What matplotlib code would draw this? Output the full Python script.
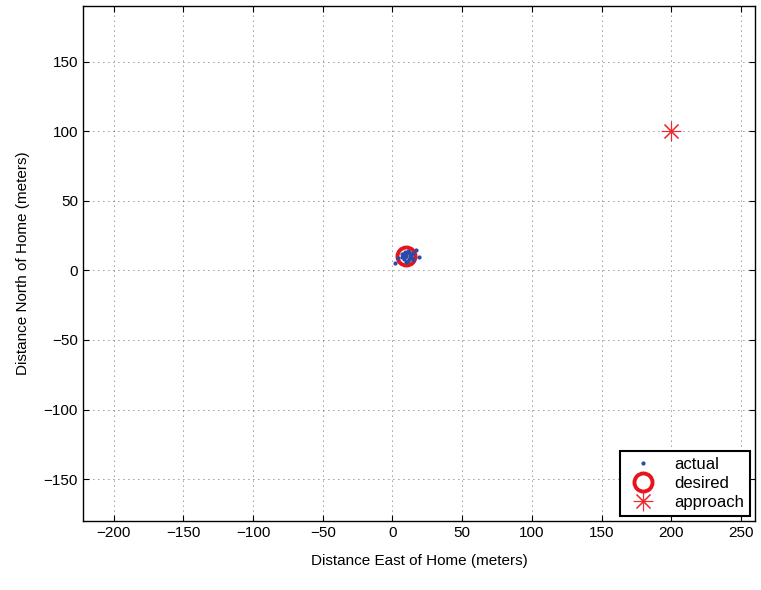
import matplotlib.pyplot as plt
import numpy as np

plt.rcParams['font.family'] = ['Liberation Sans', 'DejaVu Sans']

# actual positions (meters east / north of home)
actual_e = [1.8, 3.7, 16.9, 18.8, 7.5, 9.0, 10.5, 12.0, 13.5, 8.0, 11.0, 14.0,
            9.5, 12.5, 7.0, 10.0, 13.0, 11.5, 8.5, 15.0, 6.5, 14.5, 9.0, 12.0]
actual_n = [5.5, 9.1, 14.6, 9.5, 12.0, 13.5, 12.5, 13.0, 11.0, 8.0, 7.0, 9.0,
            10.5, 10.0, 9.5, 6.0, 12.0, 14.0, 11.0, 12.5, 11.5, 7.5, 9.5, 8.5]
desired_e, desired_n = [10], [10]
approach_e, approach_n = [200], [100]

fig = plt.figure(figsize=(7.61, 5.90), dpi=100)
ax = fig.add_axes([0.109, 0.117, 0.883, 0.873])

ax.plot(actual_e, actual_n, '.', color='#2a4aa8', markersize=4, label='actual',
        zorder=4)
ax.plot(desired_e, desired_n, 'o', mfc='none', mec='#e8141c', mew=2.8,
        markersize=13, label='desired', zorder=3)
ax.plot(approach_e, approach_n, linestyle='none', marker=(8, 2, 0),
        color='#ee2a30', markersize=14, mew=0.8, label='approach', zorder=3)

ax.set_xlim(-222, 260)
ax.set_ylim(-180, 190)
ax.set_xticks(np.arange(-200, 251, 50))
ax.set_yticks(np.arange(-150, 151, 50))
ax.set_xticklabels([str(v).replace('-', '\u2212') for v in range(-200, 251, 50)])
ax.set_yticklabels([str(v).replace('-', '\u2212') for v in range(-150, 151, 50)])
ax.tick_params(direction='in', top=True, right=True, labelsize=11, length=4)
ax.grid(True, linestyle=(0, (1, 5)), color='#333333', linewidth=0.6)
for s in ax.spines.values():
    s.set_linewidth(1)

ax.set_xlabel('Distance East of Home (meters)', fontsize=11, labelpad=10)
ax.set_ylabel('Distance North of Home (meters)', fontsize=11, labelpad=10)

leg = ax.legend(loc='lower right', fontsize=12, fancybox=False, framealpha=1,
                edgecolor='black', borderaxespad=0.3, handletextpad=0.9,
                labelspacing=0.25, borderpad=0.35)
leg.get_frame().set_linewidth(1.5)

fig.savefig('out.png', dpi=100)
